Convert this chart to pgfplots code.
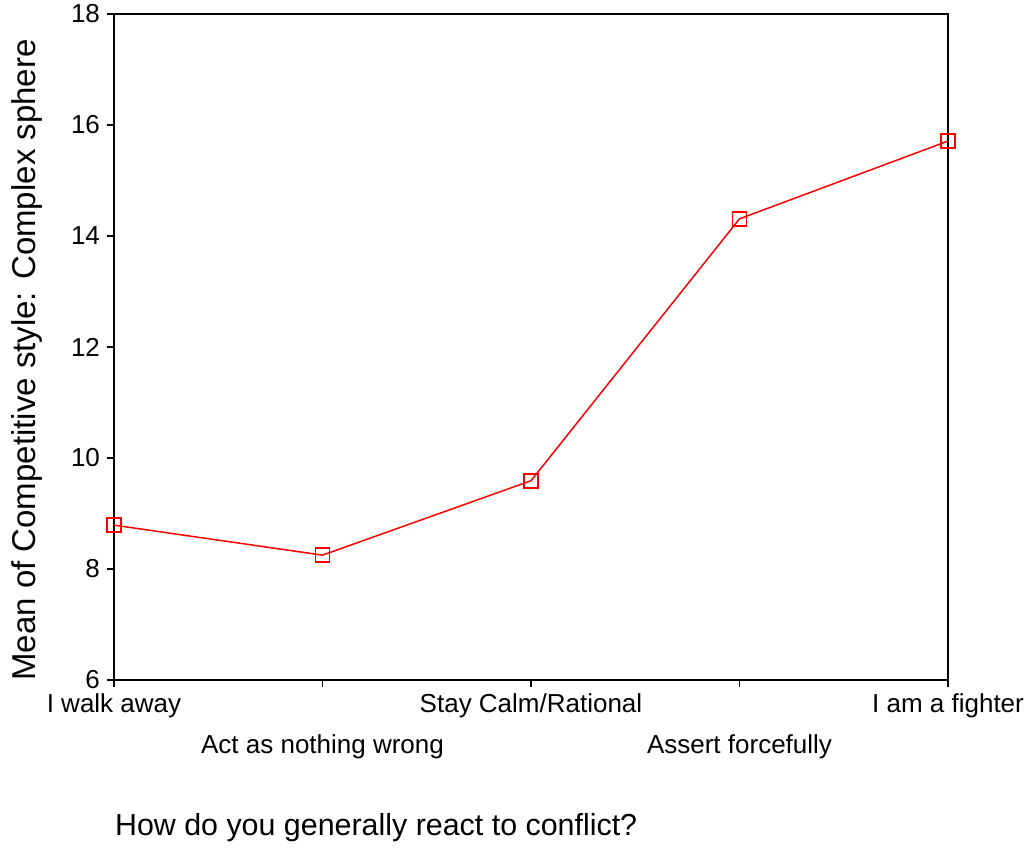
\documentclass[border=0pt]{standalone}
\usepackage{fontspec}
\setmainfont{Liberation Sans}
\usepackage{pgfplots}
\pgfplotsset{compat=1.18}

\begin{document}
\begin{tikzpicture}
% 1 px of the reference = 0.5 pt
\useasboundingbox (-57pt,-85pt) rectangle (458.5pt,340pt);
\begin{axis}[
    scale only axis,
    width=417pt, height=333pt,
    at={(0,0)}, anchor=south west,
    xmin=0, xmax=4,
    ymin=6, ymax=18,
    ytick={6,8,...,18},
    xtick={0,2,4},
    xticklabels={I walk away, Stay Calm/Rational, I am a fighter},
    extra x ticks={1,3},
    extra x tick labels={Act as nothing wrong, Assert forcefully},
    extra x tick style={tick label style={yshift=-20.5pt}},
    tick align=outside,
    tick pos=left,
    major tick length=3.5pt,
    axis line style={line width=1pt},
    every tick/.style={black, line width=0.9pt},
    tick label style={font=\fontsize{13pt}{15pt}\selectfont},
    /pgf/number format/assume math mode=true,
    xlabel={How do you generally react to conflict?},
    xlabel style={font=\fontsize{15.2pt}{18pt}\selectfont,
        at={(axis description cs:0,0)}, anchor=west, yshift=-74pt, xshift=-3pt},
    ylabel={Mean of Competitive style: Complex sphere},
    ylabel style={font=\fontsize{16.5pt}{19pt}\selectfont,
        at={(axis description cs:0,0.5)}, anchor=center,
        xshift=-6.5pt, yshift=43.5pt},
    clip=false,
]
\addplot[red, line width=0.75pt, mark=square, mark size=3.5pt,
    mark options={solid, line width=0.75pt}]
    coordinates {
    (0, 8.79)
    (1, 8.25)
    (2, 9.59)
    (3, 14.31)
    (4, 15.71)
};
\end{axis}
\end{tikzpicture}
\end{document}
